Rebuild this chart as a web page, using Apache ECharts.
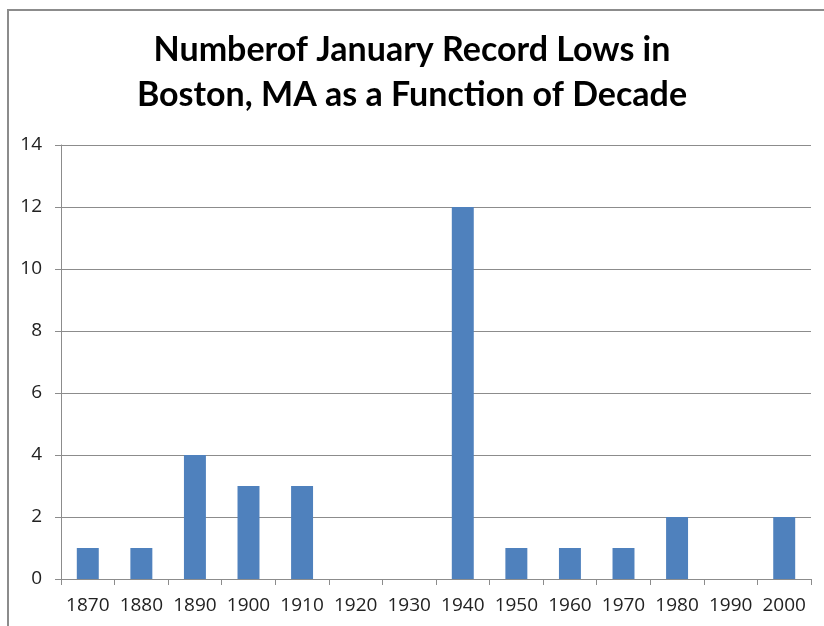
<!DOCTYPE html>
<html>
<head>
<meta charset="utf-8">
<script src="https://cdn.jsdelivr.net/npm/echarts@6/dist/echarts.min.js"></script>
<style>
  html, body { margin: 0; padding: 0; background: #fff; overflow: hidden; width: 824px; height: 626px; }
  #frameTop { position: absolute; left: 7px; top: 9px; width: 817px; height: 2px; background: #8c8c8c; }
  #frameLeft { position: absolute; left: 7px; top: 9px; width: 2px; height: 617px; background: #8c8c8c; }
  #chart { width: 824px; height: 626px; position: absolute; left: 0; top: 0; }
</style>
</head>
<body>
<div id="frameTop"></div>
<div id="frameLeft"></div>
<div id="chart"></div>
<script>
// 数据
const decades = ['1870', '1880', '1890', '1900', '1910', '1920', '1930', '1940', '1950', '1960', '1970', '1980', '1990', '2000'];
const recordLows = [1, 1, 4, 3, 3, 0, 0, 12, 1, 1, 1, 2, 0, 2];
const titleText = 'Numberof January Record Lows in\nBoston, MA as a Function of Decade';

const chart = echarts.init(document.getElementById('chart'));
chart.setOption({
  animation: false,
  title: {
    text: titleText,
    left: 'center',
    top: 23,
    textStyle: {
      fontFamily: 'Lato',
      fontWeight: 'bold',
      fontSize: 34,
      lineHeight: 45,
      color: '#000'
    }
  },
  grid: { left: 61, right: 13, top: 145, bottom: 47 },
  xAxis: {
    type: 'category',
    data: decades,
    axisLine: { lineStyle: { color: '#8c8c8c', width: 1 } },
    axisTick: { show: true, length: 6, alignWithLabel: false, lineStyle: { color: '#8c8c8c' } },
    axisLabel: { interval: 0, margin: 17, fontSize: 19, fontFamily: 'Open Sans', color: '#222' }
  },
  yAxis: {
    type: 'value',
    min: 0,
    max: 14,
    interval: 2,
    axisLine: { show: true, lineStyle: { color: '#8c8c8c', width: 1 } },
    axisTick: { show: true, length: 6, lineStyle: { color: '#8c8c8c' } },
    axisLabel: { margin: 19, fontSize: 19, fontFamily: 'Open Sans', color: '#222' },
    splitLine: { lineStyle: { color: '#8c8c8c', width: 1 } }
  },
  series: [{
    type: 'bar',
    data: recordLows,
    barWidth: '41%',
    itemStyle: { color: '#4f81bd' }
  }]
});
</script>
</body>
</html>
